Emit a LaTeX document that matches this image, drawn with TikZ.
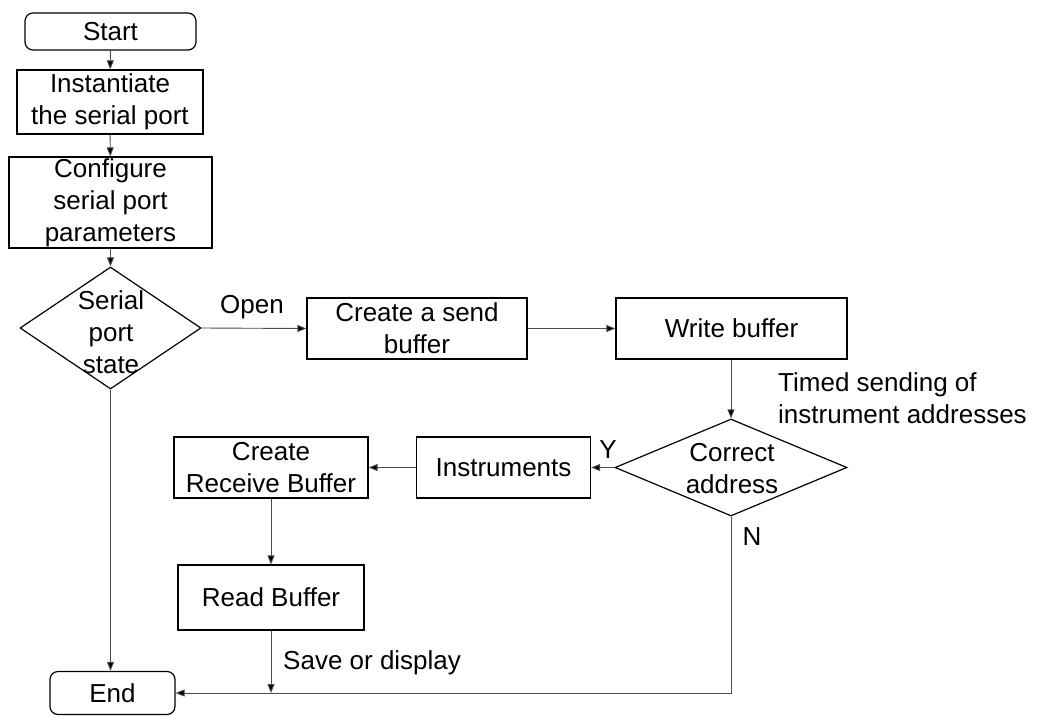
\documentclass[tikz,border=0pt]{standalone}
\usepackage{fontspec}
\setmainfont{Liberation Sans}
\usetikzlibrary{shapes.geometric,arrows.meta}
\begin{document}
\begin{tikzpicture}[x=1pt,y=-1pt,
  every node/.style={font=\fontsize{26}{32}\selectfont, inner sep=0pt, align=center},
  procbox/.style={draw=black, line width=1.2pt, rectangle, minimum width=#1},
  termbox/.style={draw=black, line width=1.2pt, rectangle, rounded corners=8pt},
  decbox/.style={draw=black, line width=1.2pt, diamond, inner sep=0pt},
  flow/.style={draw=black!70, line width=0.9pt, -{Triangle[length=9pt,width=7pt,fill=black]}},
  plain/.style={draw=black!70, line width=0.9pt},
  note/.style={inner sep=0pt}]
\useasboundingbox (0,0) rectangle (1043,715);

% terminals and steps
\node[termbox, minimum width=171pt, minimum height=37pt] (start) at (110.5,31.5) {Start};
\node[procbox=186pt, minimum height=64pt] (inst) at (110,102) {Instantiate\\the serial port};
\node[procbox=203pt, minimum height=91pt] (conf) at (110.5,202.5) {Configure\\serial port\\parameters};

% decision: serial port state
\node[decbox, minimum width=181pt, minimum height=122pt] (serial) at (110.5,328) {};
\node[note] (serialtext) at (111,332) {Serial\\port\\state};

\node[procbox=220pt, minimum height=61pt] (send) at (417,328.5) {Create a send\\buffer};
\node[procbox=231pt, minimum height=61pt] (write) at (731.5,328.5) {Write buffer};

% decision: correct address
\node[decbox, minimum width=232pt, minimum height=97pt] (correct) at (731,467.5) {};
\node[note] (correcttext) at (732,469) {Correct\\address};

\node[procbox=174pt, minimum height=61pt] (instr) at (503.5,467.5) {Instruments};
\node[procbox=194pt, minimum height=61pt] (recv) at (271,467.5) {Create\\Receive Buffer};
\node[procbox=186pt, minimum height=65pt] (read) at (271,597.5) {Read Buffer};
\node[termbox, minimum width=125pt, minimum height=43pt] (end) at (112.5,693) {End};

% labels
\node[note] (openlbl) at (252,307) {Open};
\node[note, anchor=west, align=left] (timedlbl) at (778,398) {Timed sending of\\instrument addresses};
\node[note] (ylbl) at (608,450) {Y};
\node[note] (nlbl) at (752,537) {N};
\node[note, anchor=west] (savelbl) at (283,663) {Save or display};

% connectors
\draw[flow] (start) -- (inst);
\draw[flow] (inst) -- (conf);
\draw[flow] (conf) -- (serial.north);
\draw[flow] (serial.east) -- (send.west);
\draw[flow] (send) -- (write);
\draw[flow] (write.south -| correct.north) -- (correct.north);
\draw[flow] (correct.west) -- (instr.east);
\draw[flow] (instr) -- (recv);
\draw[flow] (recv) -- (read);
\draw[flow] (serial.south) -- (serial.south |- end.north);
\coordinate (nturn) at (correct.south |- end.east);
\draw[flow] (correct.south) -- (nturn) -- (end.east);
\draw[flow] (read.south) -- (read.south |- end.east);
\end{tikzpicture}
\end{document}
